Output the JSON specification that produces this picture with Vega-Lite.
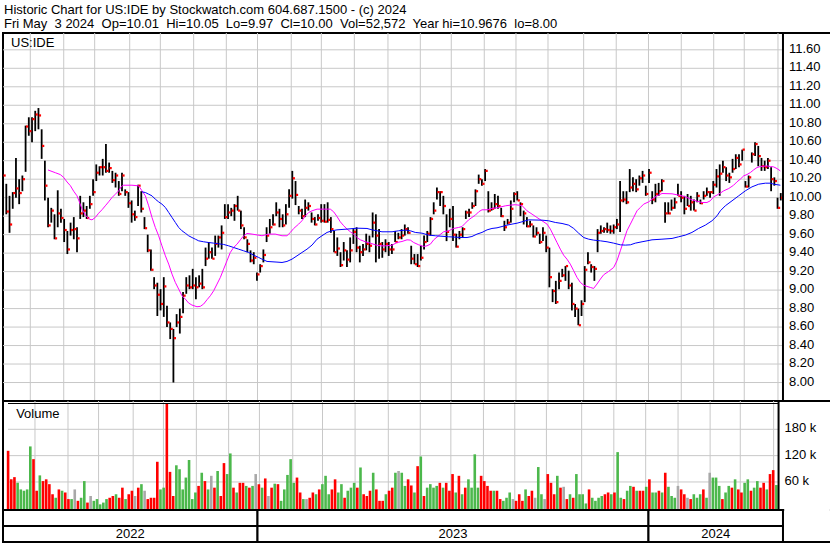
{
"$schema": "https://vega.github.io/schema/vega-lite/v6.json",
"padding": {"left": 1, "top": 4, "right": 0, "bottom": 1},
"background": "white",
"spacing": 0,
"bounds": "flush",
"resolve": {"scale": {"x": "independent", "y": "independent", "color": "independent"}},
"title": {"text": "Historic Chart for US:IDE by Stockwatch.com 604.687.1500 - (c) 2024", "subtitle": "Fri May\u00a0 3 2024\u00a0 Op=10.01\u00a0 Hi=10.05\u00a0 Lo=9.97\u00a0 Cl=10.00\u00a0 Vol=52,572\u00a0 Year hi=10.9676\u00a0 lo=8.00", "anchor": "start", "frame": "group", "dx": 1, "offset": 0, "fontSize": 13, "fontWeight": "normal", "font": "Liberation Sans", "color": "black", "subtitleFont": "Liberation Sans", "subtitleFontSize": 13, "subtitleColor": "black", "subtitlePadding": 1},
"config": {"font": "Liberation Sans", "view": {"stroke": "#000000", "strokeWidth": 2}},
"datasets": {
"bars": [
{"t":0,"h":10.26,"l":9.95,"c":10.24,"v":131,"d":"d"},
{"t":3,"h":10.15,"l":9.82,"c":9.85,"v":66,"d":"d"},
{"t":6,"h":10.02,"l":9.62,"c":9.71,"v":71,"d":"d"},
{"t":9,"h":10.06,"l":9.88,"c":10.05,"v":58,"d":"u"},
{"t":12,"h":10.43,"l":10.0,"c":10.1,"v":43,"d":"u"},
{"t":15,"h":10.2,"l":9.93,"c":10.05,"v":40,"d":"u"},
{"t":18,"h":10.24,"l":10.07,"c":10.2,"v":43,"d":"u"},
{"t":21,"h":10.78,"l":10.28,"c":10.77,"v":141,"d":"u"},
{"t":24,"h":10.87,"l":10.67,"c":10.72,"v":112,"d":"d"},
{"t":27,"h":10.87,"l":10.6,"c":10.85,"v":40,"d":"d"},
{"t":30,"h":10.94,"l":10.72,"c":10.9,"v":75,"d":"u"},
{"t":33,"h":10.97,"l":10.74,"c":10.89,"v":62,"d":"d"},
{"t":36,"h":10.74,"l":10.42,"c":10.56,"v":66,"d":"d"},
{"t":39,"h":10.4,"l":9.97,"c":10.13,"v":55,"d":"d"},
{"t":42,"h":10.0,"l":9.68,"c":9.7,"v":32,"d":"d"},
{"t":45,"h":9.89,"l":9.73,"c":9.86,"v":24,"d":"u"},
{"t":48,"h":9.82,"l":9.55,"c":9.56,"v":43,"d":"d"},
{"t":51,"h":10.08,"l":9.68,"c":9.83,"v":40,"d":"u"},
{"t":54,"h":9.88,"l":9.73,"c":9.78,"v":36,"d":"d"},
{"t":57,"h":9.77,"l":9.52,"c":9.65,"v":21,"d":"d"},
{"t":60,"h":9.64,"l":9.39,"c":9.44,"v":21,"d":"u"},
{"t":63,"h":9.73,"l":9.59,"c":9.65,"v":43,"d":"n"},
{"t":66,"h":9.79,"l":9.55,"c":9.66,"v":17,"d":"d"},
{"t":69,"h":9.68,"l":9.41,"c":9.56,"v":24,"d":"u"},
{"t":72,"h":10.02,"l":9.77,"c":9.83,"v":62,"d":"u"},
{"t":75,"h":9.95,"l":9.79,"c":9.86,"v":13,"d":"d"},
{"t":78,"h":9.91,"l":9.77,"c":9.78,"v":28,"d":"n"},
{"t":81,"h":10.02,"l":9.88,"c":9.93,"v":17,"d":"u"},
{"t":84,"h":10.2,"l":10.02,"c":10.06,"v":21,"d":"u"},
{"t":87,"h":10.36,"l":10.18,"c":10.27,"v":9,"d":"u"},
{"t":90,"h":10.34,"l":10.24,"c":10.33,"v":13,"d":"u"},
{"t":93,"h":10.42,"l":10.24,"c":10.33,"v":21,"d":"u"},
{"t":96,"h":10.58,"l":10.27,"c":10.29,"v":24,"d":"d"},
{"t":99,"h":10.38,"l":10.27,"c":10.32,"v":28,"d":"d"},
{"t":102,"h":10.29,"l":10.16,"c":10.19,"v":32,"d":"u"},
{"t":105,"h":10.27,"l":10.11,"c":10.24,"v":24,"d":"d"},
{"t":108,"h":10.18,"l":10.02,"c":10.04,"v":47,"d":"d"},
{"t":111,"h":10.27,"l":10.07,"c":10.24,"v":21,"d":"u"},
{"t":114,"h":10.09,"l":10.02,"c":10.06,"v":32,"d":"d"},
{"t":117,"h":10.06,"l":9.89,"c":9.94,"v":40,"d":"d"},
{"t":120,"h":9.97,"l":9.73,"c":9.82,"v":28,"d":"n"},
{"t":123,"h":9.86,"l":9.75,"c":9.79,"v":47,"d":"d"},
{"t":126,"h":10.14,"l":9.91,"c":10.13,"v":55,"d":"u"},
{"t":129,"h":10.07,"l":9.84,"c":9.88,"v":40,"d":"n"},
{"t":132,"h":9.79,"l":9.66,"c":9.67,"v":21,"d":"d"},
{"t":135,"h":9.6,"l":9.41,"c":9.43,"v":24,"d":"d"},
{"t":138,"h":9.44,"l":9.21,"c":9.22,"v":24,"d":"d"},
{"t":141,"h":9.14,"l":9.01,"c":9.05,"v":106,"d":"d"},
{"t":144,"h":9.08,"l":8.72,"c":8.95,"v":43,"d":"u"},
{"t":147,"h":9.01,"l":8.78,"c":8.85,"v":47,"d":"u"},
{"t":150,"h":9.14,"l":8.71,"c":9.04,"v":240,"d":"d"},
{"t":153,"h":8.83,"l":8.6,"c":8.65,"v":83,"d":"d"},
{"t":156,"h":8.65,"l":8.47,"c":8.58,"v":28,"d":"d"},
{"t":159,"h":8.58,"l":8.0,"c":8.48,"v":98,"d":"u"},
{"t":162,"h":8.74,"l":8.6,"c":8.65,"v":89,"d":"u"},
{"t":165,"h":8.8,"l":8.53,"c":8.71,"v":43,"d":"u"},
{"t":168,"h":8.98,"l":8.75,"c":8.94,"v":70,"d":"u"},
{"t":171,"h":9.14,"l":8.96,"c":9.05,"v":110,"d":"u"},
{"t":174,"h":9.16,"l":9.01,"c":9.03,"v":21,"d":"u"},
{"t":177,"h":9.23,"l":9.01,"c":9.05,"v":36,"d":"u"},
{"t":180,"h":9.14,"l":8.9,"c":9.03,"v":51,"d":"d"},
{"t":183,"h":9.16,"l":9.03,"c":9.07,"v":81,"d":"u"},
{"t":186,"h":9.23,"l":9.01,"c":9.03,"v":62,"d":"d"},
{"t":189,"h":9.46,"l":9.26,"c":9.34,"v":43,"d":"u"},
{"t":192,"h":9.52,"l":9.34,"c":9.41,"v":74,"d":"n"},
{"t":195,"h":9.46,"l":9.34,"c":9.34,"v":47,"d":"d"},
{"t":198,"h":9.59,"l":9.37,"c":9.5,"v":85,"d":"u"},
{"t":201,"h":9.59,"l":9.46,"c":9.57,"v":28,"d":"d"},
{"t":204,"h":9.7,"l":9.44,"c":9.62,"v":103,"d":"d"},
{"t":207,"h":9.93,"l":9.77,"c":9.79,"v":78,"d":"u"},
{"t":210,"h":9.93,"l":9.77,"c":9.84,"v":125,"d":"u"},
{"t":213,"h":9.89,"l":9.8,"c":9.86,"v":47,"d":"d"},
{"t":216,"h":9.93,"l":9.75,"c":9.91,"v":36,"d":"u"},
{"t":219,"h":10.02,"l":9.86,"c":9.86,"v":58,"d":"d"},
{"t":222,"h":9.86,"l":9.66,"c":9.7,"v":58,"d":"d"},
{"t":225,"h":9.68,"l":9.55,"c":9.57,"v":51,"d":"u"},
{"t":228,"h":9.55,"l":9.41,"c":9.5,"v":47,"d":"d"},
{"t":231,"h":9.43,"l":9.3,"c":9.32,"v":51,"d":"u"},
{"t":234,"h":9.41,"l":9.28,"c":9.35,"v":78,"d":"n"},
{"t":237,"h":9.19,"l":9.1,"c":9.17,"v":55,"d":"d"},
{"t":240,"h":9.28,"l":9.19,"c":9.26,"v":47,"d":"u"},
{"t":243,"h":9.44,"l":9.3,"c":9.38,"v":68,"d":"d"},
{"t":246,"h":9.68,"l":9.52,"c":9.59,"v":28,"d":"n"},
{"t":249,"h":9.77,"l":9.61,"c":9.68,"v":47,"d":"d"},
{"t":252,"h":9.82,"l":9.7,"c":9.71,"v":56,"d":"u"},
{"t":255,"h":9.95,"l":9.8,"c":9.84,"v":55,"d":"d"},
{"t":258,"h":9.88,"l":9.68,"c":9.77,"v":17,"d":"u"},
{"t":261,"h":9.82,"l":9.68,"c":9.7,"v":43,"d":"u"},
{"t":264,"h":9.93,"l":9.71,"c":9.82,"v":76,"d":"u"},
{"t":267,"h":10.09,"l":9.89,"c":10.02,"v":112,"d":"u"},
{"t":270,"h":10.29,"l":9.99,"c":10.21,"v":58,"d":"u"},
{"t":273,"h":10.18,"l":9.92,"c":10.03,"v":70,"d":"d"},
{"t":276,"h":9.91,"l":9.82,"c":9.86,"v":36,"d":"d"},
{"t":279,"h":9.88,"l":9.77,"c":9.8,"v":21,"d":"u"},
{"t":282,"h":9.98,"l":9.79,"c":9.89,"v":21,"d":"n"},
{"t":285,"h":9.95,"l":9.86,"c":9.91,"v":24,"d":"d"},
{"t":288,"h":9.84,"l":9.73,"c":9.77,"v":36,"d":"d"},
{"t":291,"h":9.79,"l":9.7,"c":9.71,"v":32,"d":"u"},
{"t":294,"h":9.82,"l":9.75,"c":9.78,"v":43,"d":"d"},
{"t":297,"h":9.93,"l":9.73,"c":9.75,"v":55,"d":"u"},
{"t":300,"h":9.93,"l":9.73,"c":9.74,"v":74,"d":"u"},
{"t":303,"h":9.95,"l":9.73,"c":9.76,"v":32,"d":"u"},
{"t":306,"h":9.79,"l":9.62,"c":9.66,"v":43,"d":"d"},
{"t":309,"h":9.64,"l":9.41,"c":9.41,"v":66,"d":"d"},
{"t":312,"h":9.57,"l":9.37,"c":9.45,"v":36,"d":"u"},
{"t":315,"h":9.41,"l":9.25,"c":9.27,"v":55,"d":"u"},
{"t":318,"h":9.52,"l":9.32,"c":9.43,"v":24,"d":"d"},
{"t":321,"h":9.43,"l":9.25,"c":9.33,"v":40,"d":"u"},
{"t":324,"h":9.57,"l":9.3,"c":9.43,"v":47,"d":"u"},
{"t":327,"h":9.66,"l":9.5,"c":9.63,"v":58,"d":"u"},
{"t":330,"h":9.68,"l":9.41,"c":9.46,"v":47,"d":"d"},
{"t":333,"h":9.48,"l":9.3,"c":9.41,"v":93,"d":"u"},
{"t":336,"h":9.5,"l":9.37,"c":9.44,"v":32,"d":"d"},
{"t":339,"h":9.61,"l":9.43,"c":9.5,"v":28,"d":"d"},
{"t":342,"h":9.59,"l":9.41,"c":9.48,"v":40,"d":"d"},
{"t":345,"h":9.84,"l":9.57,"c":9.73,"v":81,"d":"u"},
{"t":348,"h":9.82,"l":9.3,"c":9.59,"v":43,"d":"d"},
{"t":351,"h":9.66,"l":9.34,"c":9.5,"v":17,"d":"d"},
{"t":354,"h":9.52,"l":9.35,"c":9.44,"v":17,"d":"d"},
{"t":357,"h":9.55,"l":9.41,"c":9.5,"v":32,"d":"u"},
{"t":360,"h":9.52,"l":9.37,"c":9.44,"v":40,"d":"d"},
{"t":363,"h":9.5,"l":9.39,"c":9.44,"v":47,"d":"d"},
{"t":366,"h":9.64,"l":9.52,"c":9.52,"v":81,"d":"u"},
{"t":369,"h":9.62,"l":9.55,"c":9.57,"v":85,"d":"n"},
{"t":372,"h":9.66,"l":9.55,"c":9.59,"v":81,"d":"u"},
{"t":375,"h":9.71,"l":9.59,"c":9.66,"v":51,"d":"u"},
{"t":378,"h":9.68,"l":9.61,"c":9.62,"v":66,"d":"d"},
{"t":381,"h":9.48,"l":9.28,"c":9.34,"v":52,"d":"d"},
{"t":384,"h":9.39,"l":9.28,"c":9.28,"v":36,"d":"u"},
{"t":387,"h":9.39,"l":9.25,"c":9.26,"v":96,"d":"d"},
{"t":390,"h":9.48,"l":9.32,"c":9.35,"v":118,"d":"u"},
{"t":393,"h":9.59,"l":9.44,"c":9.52,"v":28,"d":"d"},
{"t":396,"h":9.64,"l":9.52,"c":9.61,"v":47,"d":"u"},
{"t":399,"h":9.79,"l":9.59,"c":9.77,"v":55,"d":"u"},
{"t":402,"h":9.95,"l":9.82,"c":9.86,"v":47,"d":"u"},
{"t":405,"h":10.11,"l":9.98,"c":10.06,"v":51,"d":"u"},
{"t":408,"h":10.07,"l":9.91,"c":10.06,"v":58,"d":"d"},
{"t":411,"h":10.02,"l":9.82,"c":9.91,"v":47,"d":"u"},
{"t":414,"h":9.82,"l":9.53,"c":9.63,"v":58,"d":"d"},
{"t":417,"h":9.88,"l":9.68,"c":9.77,"v":40,"d":"d"},
{"t":420,"h":9.91,"l":9.53,"c":9.6,"v":78,"d":"d"},
{"t":423,"h":9.61,"l":9.46,"c":9.47,"v":36,"d":"u"},
{"t":426,"h":9.64,"l":9.55,"c":9.6,"v":74,"d":"d"},
{"t":429,"h":9.68,"l":9.57,"c":9.66,"v":32,"d":"u"},
{"t":432,"h":9.86,"l":9.77,"c":9.84,"v":47,"d":"d"},
{"t":435,"h":9.88,"l":9.79,"c":9.84,"v":66,"d":"u"},
{"t":438,"h":9.95,"l":9.88,"c":9.91,"v":47,"d":"u"},
{"t":441,"h":10.09,"l":9.91,"c":10.07,"v":123,"d":"u"},
{"t":444,"h":10.25,"l":10.15,"c":10.2,"v":47,"d":"u"},
{"t":447,"h":10.2,"l":10.13,"c":10.15,"v":74,"d":"d"},
{"t":450,"h":10.31,"l":10.18,"c":10.29,"v":62,"d":"d"},
{"t":453,"h":10.07,"l":9.84,"c":9.86,"v":51,"d":"d"},
{"t":456,"h":9.95,"l":9.86,"c":9.88,"v":40,"d":"d"},
{"t":459,"h":10.04,"l":9.88,"c":9.93,"v":40,"d":"u"},
{"t":462,"h":10.02,"l":9.88,"c":9.91,"v":40,"d":"d"},
{"t":465,"h":9.89,"l":9.79,"c":9.8,"v":21,"d":"d"},
{"t":468,"h":9.75,"l":9.64,"c":9.68,"v":17,"d":"u"},
{"t":471,"h":9.77,"l":9.71,"c":9.73,"v":24,"d":"u"},
{"t":474,"h":9.97,"l":9.73,"c":9.88,"v":36,"d":"u"},
{"t":477,"h":10.06,"l":9.95,"c":10.04,"v":21,"d":"n"},
{"t":480,"h":10.07,"l":9.97,"c":9.97,"v":17,"d":"d"},
{"t":483,"h":9.95,"l":9.8,"c":9.93,"v":32,"d":"d"},
{"t":486,"h":9.86,"l":9.71,"c":9.83,"v":17,"d":"d"},
{"t":489,"h":9.79,"l":9.68,"c":9.69,"v":43,"d":"u"},
{"t":492,"h":9.75,"l":9.68,"c":9.71,"v":28,"d":"d"},
{"t":495,"h":9.7,"l":9.57,"c":9.58,"v":40,"d":"d"},
{"t":498,"h":9.68,"l":9.59,"c":9.62,"v":24,"d":"n"},
{"t":501,"h":9.61,"l":9.5,"c":9.52,"v":94,"d":"u"},
{"t":504,"h":9.68,"l":9.53,"c":9.62,"v":32,"d":"u"},
{"t":507,"h":9.59,"l":9.41,"c":9.46,"v":21,"d":"n"},
{"t":510,"h":9.46,"l":9.03,"c":9.14,"v":78,"d":"d"},
{"t":513,"h":9.01,"l":8.87,"c":8.99,"v":58,"d":"d"},
{"t":516,"h":9.1,"l":8.85,"c":8.87,"v":32,"d":"d"},
{"t":519,"h":9.19,"l":9.01,"c":9.1,"v":74,"d":"u"},
{"t":522,"h":9.23,"l":9.14,"c":9.16,"v":47,"d":"d"},
{"t":525,"h":9.26,"l":9.1,"c":9.26,"v":49,"d":"n"},
{"t":528,"h":9.21,"l":9.01,"c":9.05,"v":21,"d":"d"},
{"t":531,"h":9.08,"l":8.78,"c":8.85,"v":32,"d":"u"},
{"t":534,"h":8.85,"l":8.71,"c":8.8,"v":24,"d":"d"},
{"t":537,"h":8.8,"l":8.62,"c":8.62,"v":78,"d":"u"},
{"t":540,"h":8.89,"l":8.72,"c":8.85,"v":32,"d":"u"},
{"t":543,"h":9.26,"l":8.87,"c":9.22,"v":32,"d":"u"},
{"t":546,"h":9.41,"l":9.28,"c":9.3,"v":11,"d":"u"},
{"t":549,"h":9.28,"l":9.19,"c":9.25,"v":43,"d":"d"},
{"t":552,"h":9.26,"l":9.1,"c":9.23,"v":24,"d":"u"},
{"t":555,"h":9.66,"l":9.41,"c":9.62,"v":17,"d":"u"},
{"t":558,"h":9.7,"l":9.61,"c":9.64,"v":24,"d":"u"},
{"t":561,"h":9.68,"l":9.62,"c":9.66,"v":28,"d":"u"},
{"t":564,"h":9.73,"l":9.62,"c":9.65,"v":32,"d":"d"},
{"t":567,"h":9.7,"l":9.61,"c":9.64,"v":36,"d":"d"},
{"t":570,"h":9.71,"l":9.61,"c":9.68,"v":32,"d":"u"},
{"t":573,"h":9.77,"l":9.66,"c":9.71,"v":36,"d":"d"},
{"t":576,"h":10.18,"l":9.63,"c":9.97,"v":128,"d":"u"},
{"t":579,"h":10.07,"l":9.95,"c":9.98,"v":24,"d":"u"},
{"t":582,"h":10.07,"l":9.93,"c":9.95,"v":21,"d":"d"},
{"t":585,"h":10.31,"l":10.06,"c":10.11,"v":40,"d":"u"},
{"t":588,"h":10.22,"l":10.07,"c":10.15,"v":51,"d":"u"},
{"t":591,"h":10.2,"l":10.06,"c":10.09,"v":49,"d":"d"},
{"t":594,"h":10.24,"l":10.13,"c":10.21,"v":40,"d":"u"},
{"t":597,"h":10.29,"l":10.16,"c":10.24,"v":40,"d":"d"},
{"t":600,"h":10.13,"l":10.02,"c":10.04,"v":40,"d":"d"},
{"t":603,"h":10.31,"l":10.16,"c":10.27,"v":49,"d":"u"},
{"t":606,"h":10.07,"l":9.93,"c":9.98,"v":66,"d":"d"},
{"t":609,"h":10.15,"l":9.95,"c":10.04,"v":36,"d":"u"},
{"t":612,"h":10.16,"l":10.02,"c":10.07,"v":36,"d":"u"},
{"t":615,"h":10.2,"l":10.07,"c":10.18,"v":40,"d":"d"},
{"t":618,"h":9.95,"l":9.73,"c":9.83,"v":36,"d":"u"},
{"t":621,"h":9.95,"l":9.82,"c":9.83,"v":81,"d":"d"},
{"t":624,"h":9.98,"l":9.86,"c":9.89,"v":49,"d":"u"},
{"t":627,"h":10.0,"l":9.88,"c":9.95,"v":28,"d":"u"},
{"t":630,"h":10.15,"l":10.02,"c":10.02,"v":24,"d":"u"},
{"t":633,"h":10.07,"l":9.95,"c":10.0,"v":51,"d":"n"},
{"t":636,"h":10.02,"l":9.82,"c":9.88,"v":43,"d":"d"},
{"t":639,"h":10.04,"l":9.91,"c":9.91,"v":32,"d":"d"},
{"t":642,"h":10.02,"l":9.86,"c":9.95,"v":24,"d":"n"},
{"t":645,"h":9.98,"l":9.86,"c":9.86,"v":21,"d":"d"},
{"t":648,"h":10.06,"l":9.95,"c":10.02,"v":32,"d":"u"},
{"t":651,"h":9.98,"l":9.93,"c":9.94,"v":24,"d":"u"},
{"t":654,"h":10.07,"l":9.98,"c":10.02,"v":32,"d":"u"},
{"t":657,"h":10.11,"l":10.02,"c":10.06,"v":43,"d":"d"},
{"t":660,"h":10.07,"l":10.0,"c":10.06,"v":24,"d":"u"},
{"t":663,"h":10.18,"l":10.04,"c":10.14,"v":81,"d":"n"},
{"t":666,"h":10.31,"l":10.11,"c":10.23,"v":70,"d":"u"},
{"t":669,"h":10.36,"l":10.02,"c":10.26,"v":70,"d":"u"},
{"t":672,"h":10.4,"l":10.27,"c":10.33,"v":51,"d":"u"},
{"t":675,"h":10.33,"l":10.18,"c":10.24,"v":21,"d":"d"},
{"t":678,"h":10.27,"l":10.16,"c":10.22,"v":36,"d":"u"},
{"t":681,"h":10.42,"l":10.27,"c":10.31,"v":51,"d":"u"},
{"t":684,"h":10.47,"l":10.31,"c":10.43,"v":47,"d":"d"},
{"t":687,"h":10.47,"l":10.33,"c":10.36,"v":66,"d":"u"},
{"t":690,"h":10.52,"l":10.4,"c":10.52,"v":43,"d":"d"},
{"t":693,"h":10.18,"l":10.11,"c":10.12,"v":36,"d":"d"},
{"t":696,"h":10.24,"l":10.11,"c":10.22,"v":58,"d":"u"},
{"t":699,"h":10.49,"l":10.38,"c":10.47,"v":66,"d":"u"},
{"t":702,"h":10.6,"l":10.45,"c":10.58,"v":40,"d":"d"},
{"t":705,"h":10.56,"l":10.34,"c":10.45,"v":47,"d":"u"},
{"t":708,"h":10.43,"l":10.29,"c":10.34,"v":62,"d":"u"},
{"t":711,"h":10.4,"l":10.29,"c":10.33,"v":47,"d":"d"},
{"t":714,"h":10.43,"l":10.31,"c":10.4,"v":58,"d":"d"},
{"t":717,"h":10.33,"l":10.07,"c":10.2,"v":43,"d":"u"},
{"t":720,"h":10.22,"l":10.13,"c":10.18,"v":78,"d":"d"},
{"t":723,"h":10.0,"l":9.88,"c":9.89,"v":87,"d":"d"},
{"t":726,"h":10.05,"l":9.97,"c":10.0,"v":53,"d":"u"}
],
"ma1": [
{"t":41.9,"p":10.3},{"t":48.8,"p":10.27},{"t":53.4,"p":10.25},{"t":56.5,"p":10.22},{"t":59.7,"p":10.17},{"t":62.8,"p":10.13},{"t":65.9,"p":10.07},{"t":69.0,"p":10.02},{"t":71.2,"p":9.955},{"t":73.7,"p":9.876},{"t":76.8,"p":9.811},{"t":80.5,"p":9.768},{"t":83.0,"p":9.76},{"t":86.1,"p":9.786},{"t":89.2,"p":9.832},{"t":92.3,"p":9.869},{"t":95.4,"p":9.912},{"t":98.5,"p":9.955},{"t":101.7,"p":10.002},{"t":104.8,"p":10.038},{"t":107.9,"p":10.074},{"t":110.4,"p":10.121},{"t":112.6,"p":10.135},{"t":120.3,"p":10.135},{"t":126.6,"p":10.128},{"t":129.7,"p":10.074},{"t":132.8,"p":10.02},{"t":135.9,"p":9.912},{"t":139.0,"p":9.786},{"t":142.1,"p":9.678},{"t":145.2,"p":9.588},{"t":148.3,"p":9.479},{"t":151.5,"p":9.371},{"t":154.6,"p":9.281},{"t":157.7,"p":9.173},{"t":160.8,"p":9.083},{"t":163.9,"p":9.011},{"t":167.0,"p":8.939},{"t":170.1,"p":8.903},{"t":173.2,"p":8.86},{"t":176.3,"p":8.838},{"t":181.0,"p":8.82},{"t":184.1,"p":8.824},{"t":187.2,"p":8.849},{"t":190.4,"p":8.896},{"t":193.5,"p":8.939},{"t":196.6,"p":8.993},{"t":199.7,"p":9.065},{"t":202.8,"p":9.137},{"t":205.9,"p":9.227},{"t":209.0,"p":9.317},{"t":212.1,"p":9.407},{"t":215.2,"p":9.461},{"t":218.4,"p":9.497},{"t":221.5,"p":9.544},{"t":224.6,"p":9.588},{"t":227.7,"p":9.613},{"t":232.4,"p":9.606},{"t":241.7,"p":9.588},{"t":247.9,"p":9.606},{"t":254.1,"p":9.606},{"t":260.4,"p":9.588},{"t":265.0,"p":9.588},{"t":268.2,"p":9.624},{"t":271.3,"p":9.667},{"t":275.9,"p":9.714},{"t":279.0,"p":9.75},{"t":282.2,"p":9.804},{"t":285.3,"p":9.84},{"t":288.4,"p":9.858},{"t":293.1,"p":9.876},{"t":305.5,"p":9.876},{"t":308.6,"p":9.847},{"t":311.7,"p":9.797},{"t":314.8,"p":9.739},{"t":318.0,"p":9.696},{"t":321.1,"p":9.66},{"t":324.2,"p":9.631},{"t":327.3,"p":9.606},{"t":330.4,"p":9.569},{"t":333.5,"p":9.544},{"t":338.2,"p":9.523},{"t":342.8,"p":9.508},{"t":347.5,"p":9.49},{"t":352.2,"p":9.479},{"t":356.8,"p":9.479},{"t":363.1,"p":9.486},{"t":367.7,"p":9.515},{"t":372.4,"p":9.526},{"t":377.1,"p":9.544},{"t":380.2,"p":9.541},{"t":383.3,"p":9.515},{"t":388.0,"p":9.49},{"t":392.6,"p":9.472},{"t":395.7,"p":9.479},{"t":398.9,"p":9.497},{"t":402.0,"p":9.544},{"t":406.6,"p":9.588},{"t":411.3,"p":9.631},{"t":416.0,"p":9.642},{"t":420.6,"p":9.667},{"t":425.3,"p":9.678},{"t":428.4,"p":9.688},{"t":431.5,"p":9.724},{"t":434.6,"p":9.76},{"t":437.7,"p":9.786},{"t":440.9,"p":9.811},{"t":444.0,"p":9.847},{"t":447.1,"p":9.869},{"t":451.8,"p":9.869},{"t":456.4,"p":9.883},{"t":462.6,"p":9.894},{"t":468.9,"p":9.912},{"t":473.5,"p":9.919},{"t":478.2,"p":9.924},{"t":484.4,"p":9.915},{"t":489.1,"p":9.858},{"t":493.8,"p":9.822},{"t":498.4,"p":9.786},{"t":503.1,"p":9.75},{"t":507.8,"p":9.714},{"t":510.9,"p":9.66},{"t":514.0,"p":9.588},{"t":517.1,"p":9.515},{"t":520.2,"p":9.443},{"t":523.3,"p":9.378},{"t":526.4,"p":9.335},{"t":529.5,"p":9.281},{"t":532.7,"p":9.209},{"t":535.8,"p":9.137},{"t":538.9,"p":9.083},{"t":542.0,"p":9.054},{"t":545.1,"p":9.04},{"t":548.2,"p":9.029},{"t":551.3,"p":9.018},{"t":554.4,"p":9.065},{"t":557.6,"p":9.119},{"t":560.7,"p":9.166},{"t":565.3,"p":9.202},{"t":570.0,"p":9.245},{"t":573.1,"p":9.317},{"t":576.2,"p":9.425},{"t":579.3,"p":9.533},{"t":582.4,"p":9.642},{"t":585.6,"p":9.714},{"t":588.7,"p":9.786},{"t":591.8,"p":9.858},{"t":594.9,"p":9.894},{"t":598.0,"p":9.93},{"t":602.7,"p":9.955},{"t":605.8,"p":9.984},{"t":610.4,"p":10.02},{"t":615.1,"p":10.045},{"t":624.5,"p":10.042},{"t":633.8,"p":10.02},{"t":638.5,"p":10.002},{"t":643.1,"p":9.977},{"t":647.8,"p":9.962},{"t":652.5,"p":9.948},{"t":657.1,"p":9.948},{"t":660.2,"p":9.966},{"t":663.4,"p":10.009},{"t":668.0,"p":10.038},{"t":672.7,"p":10.074},{"t":677.4,"p":10.099},{"t":682.0,"p":10.135},{"t":685.1,"p":10.171},{"t":688.2,"p":10.2},{"t":691.4,"p":10.236},{"t":694.5,"p":10.251},{"t":697.6,"p":10.272},{"t":700.7,"p":10.301},{"t":703.8,"p":10.326},{"t":706.9,"p":10.337},{"t":713.1,"p":10.344},{"t":716.3,"p":10.337},{"t":719.4,"p":10.333},{"t":722.5,"p":10.315},{"t":725.6,"p":10.29}
],
"ma2": [
{"t":129.7,"p":10.063},{"t":132.8,"p":10.056},{"t":135.9,"p":10.038},{"t":139.0,"p":10.02},{"t":142.1,"p":9.984},{"t":145.2,"p":9.955},{"t":148.3,"p":9.93},{"t":151.5,"p":9.894},{"t":154.6,"p":9.84},{"t":157.7,"p":9.786},{"t":160.8,"p":9.732},{"t":163.9,"p":9.678},{"t":167.0,"p":9.642},{"t":170.1,"p":9.616},{"t":173.2,"p":9.588},{"t":176.3,"p":9.569},{"t":179.5,"p":9.551},{"t":182.6,"p":9.533},{"t":187.2,"p":9.523},{"t":191.9,"p":9.515},{"t":196.6,"p":9.508},{"t":201.2,"p":9.501},{"t":205.9,"p":9.494},{"t":210.6,"p":9.479},{"t":215.2,"p":9.461},{"t":219.9,"p":9.443},{"t":224.6,"p":9.425},{"t":229.3,"p":9.407},{"t":233.9,"p":9.378},{"t":238.6,"p":9.353},{"t":241.7,"p":9.335},{"t":246.4,"p":9.31},{"t":255.7,"p":9.303},{"t":260.4,"p":9.299},{"t":265.0,"p":9.31},{"t":269.7,"p":9.335},{"t":274.4,"p":9.371},{"t":279.0,"p":9.407},{"t":283.7,"p":9.443},{"t":288.4,"p":9.487},{"t":293.1,"p":9.551},{"t":297.7,"p":9.588},{"t":302.4,"p":9.624},{"t":307.1,"p":9.642},{"t":311.7,"p":9.652},{"t":321.1,"p":9.66},{"t":330.4,"p":9.67},{"t":339.7,"p":9.667},{"t":344.4,"p":9.652},{"t":349.1,"p":9.642},{"t":353.7,"p":9.631},{"t":363.1,"p":9.631},{"t":369.3,"p":9.642},{"t":375.5,"p":9.649},{"t":380.2,"p":9.642},{"t":384.8,"p":9.624},{"t":391.1,"p":9.616},{"t":397.3,"p":9.595},{"t":403.5,"p":9.588},{"t":416.0,"p":9.577},{"t":428.4,"p":9.569},{"t":433.1,"p":9.569},{"t":437.7,"p":9.58},{"t":442.4,"p":9.606},{"t":447.1,"p":9.624},{"t":451.8,"p":9.652},{"t":456.4,"p":9.667},{"t":461.1,"p":9.674},{"t":465.8,"p":9.688},{"t":470.4,"p":9.703},{"t":475.1,"p":9.714},{"t":479.8,"p":9.724},{"t":484.4,"p":9.739},{"t":490.6,"p":9.76},{"t":503.1,"p":9.757},{"t":509.3,"p":9.75},{"t":515.5,"p":9.732},{"t":521.8,"p":9.721},{"t":528.0,"p":9.703},{"t":532.7,"p":9.667},{"t":537.3,"p":9.616},{"t":542.0,"p":9.569},{"t":546.7,"p":9.551},{"t":551.3,"p":9.541},{"t":557.6,"p":9.533},{"t":563.8,"p":9.523},{"t":570.0,"p":9.508},{"t":576.2,"p":9.49},{"t":580.9,"p":9.487},{"t":585.6,"p":9.49},{"t":590.2,"p":9.508},{"t":596.5,"p":9.523},{"t":601.1,"p":9.533},{"t":605.8,"p":9.544},{"t":615.1,"p":9.551},{"t":624.5,"p":9.559},{"t":630.7,"p":9.577},{"t":636.9,"p":9.595},{"t":643.1,"p":9.624},{"t":649.3,"p":9.667},{"t":655.6,"p":9.703},{"t":661.8,"p":9.75},{"t":666.5,"p":9.804},{"t":669.6,"p":9.858},{"t":674.2,"p":9.912},{"t":680.5,"p":9.966},{"t":686.7,"p":10.02},{"t":692.9,"p":10.074},{"t":699.1,"p":10.117},{"t":705.4,"p":10.146},{"t":711.6,"p":10.157},{"t":716.3,"p":10.157},{"t":719.4,"p":10.146},{"t":725.6,"p":10.135}
],
"months": [{"t":25.4},{"t":56.6},{"t":85.5},{"t":118.2},{"t":146.8},{"t":177.9},{"t":208.4},{"t":237.5},{"t":269.0},{"t":297.1},{"t":327.9},{"t":359.3},{"t":389.5},{"t":418.4},{"t":449.2},{"t":478.8},{"t":508.7},{"t":542.0},{"t":572.4},{"t":602.5},{"t":633.1},{"t":663.4},{"t":691.9},{"t":723.4}],
"plev": [{"p":8.0,"lab":"8.00"},{"p":8.2,"lab":"8.20"},{"p":8.4,"lab":"8.40"},{"p":8.6,"lab":"8.60"},{"p":8.8,"lab":"8.80"},{"p":9.0,"lab":"9.00"},{"p":9.2,"lab":"9.20"},{"p":9.4,"lab":"9.40"},{"p":9.6,"lab":"9.60"},{"p":9.8,"lab":"9.80"},{"p":10.0,"lab":"10.00"},{"p":10.2,"lab":"10.20"},{"p":10.4,"lab":"10.40"},{"p":10.6,"lab":"10.60"},{"p":10.8,"lab":"10.80"},{"p":11.0,"lab":"11.00"},{"p":11.2,"lab":"11.20"},{"p":11.4,"lab":"11.40"},{"p":11.6,"lab":"11.60"}],
"vlev": [{"v":60,"lab":"60 k"},{"v":120,"lab":"120 k"},{"v":180,"lab":"180 k"}],
"years": [{"yr":"2022","s":-0.09,"e":237.5,"m":118.7},{"yr":"2023","s":237.5,"e":602.5,"m":420.0},{"yr":"2024","s":602.5,"e":728.07,"m":665.3}]
},
"vconcat": [
{
"width": 828, "height": 368,
"layer": [
{"data": {"name": "months"}, "mark": {"type": "rule", "color": "#c8c8c8", "strokeWidth": 1},
 "encoding": {"x": {"field": "t", "type": "quantitative", "scale": {"domain": [-0.09, 772.9], "nice": false, "zero": false}, "axis": null}}},
{"data": {"name": "plev"}, "mark": {"type": "rule", "color": "#c8c8c8", "strokeWidth": 1},
 "encoding": {"y": {"field": "p", "type": "quantitative", "scale": {"domain": [7.8, 11.782], "nice": false, "zero": false}, "axis": null}, "x": {"datum": -0.09, "axis": null}, "x2": {"datum": 728.07}}},
{"data": {"name": "plev"}, "mark": {"type": "text", "align": "left", "baseline": "middle", "fontSize": 13, "dy": -1, "color": "black"},
 "encoding": {"y": {"field": "p", "type": "quantitative", "axis": null}, "x": {"datum": 733.7, "axis": null}, "text": {"field": "lab"}}},
{"data": {"name": "bars"}, "mark": {"type": "rule", "color": "black", "strokeWidth": 1.8},
 "encoding": {"x": {"field": "t", "type": "quantitative", "axis": null}, "y": {"field": "l", "type": "quantitative", "axis": null}, "y2": {"field": "h"}}},
{"data": {"name": "bars"}, "mark": {"type": "square", "color": "#ff0000", "size": 5, "opacity": 1, "xOffset": 1.5},
 "encoding": {"x": {"field": "t", "type": "quantitative", "axis": null}, "y": {"field": "c", "type": "quantitative", "axis": null}}},
{"data": {"name": "ma1"}, "mark": {"type": "line", "color": "#ff00ff", "strokeWidth": 1},
 "encoding": {"x": {"field": "t", "type": "quantitative", "axis": null}, "y": {"field": "p", "type": "quantitative", "axis": null}}},
{"data": {"name": "ma2"}, "mark": {"type": "line", "color": "#0000ff", "strokeWidth": 1},
 "encoding": {"x": {"field": "t", "type": "quantitative", "axis": null}, "y": {"field": "p", "type": "quantitative", "axis": null}}},
{"data": {"values": [{}]}, "mark": {"type": "rule", "color": "black", "strokeWidth": 2},
 "encoding": {"x": {"datum": 728.07, "axis": null}}},
{"data": {"values": [{"txt": "US:IDE"}]}, "mark": {"type": "text", "align": "left", "baseline": "alphabetic", "fontSize": 13, "color": "black"},
 "encoding": {"x": {"datum": 7.4, "axis": null}, "y": {"datum": 11.631, "axis": null}, "text": {"field": "txt"}}}
]
},
{
"width": 828, "height": 109,
"layer": [
{"data": {"name": "months"}, "mark": {"type": "rule", "color": "#c8c8c8", "strokeWidth": 1},
 "encoding": {"x": {"field": "t", "type": "quantitative", "scale": {"domain": [-0.09, 772.9], "nice": false, "zero": false}, "axis": null}}},
{"data": {"name": "vlev"}, "mark": {"type": "rule", "color": "#c8c8c8", "strokeWidth": 1},
 "encoding": {"y": {"field": "v", "type": "quantitative", "scale": {"domain": [-3.9, 244.5], "nice": false, "zero": false}, "axis": null}, "x": {"datum": -0.09, "axis": null}, "x2": {"datum": 728.07}}},
{"data": {"name": "vlev"}, "mark": {"type": "text", "align": "left", "baseline": "middle", "fontSize": 13, "dy": -1, "color": "black"},
 "encoding": {"y": {"field": "v", "type": "quantitative", "axis": null}, "x": {"datum": 733.7, "axis": null}, "text": {"field": "lab"}}},
{"data": {"name": "bars"}, "mark": {"type": "bar", "size": 2.6},
 "encoding": {"x": {"field": "t", "type": "quantitative", "axis": null}, "y": {"field": "v", "type": "quantitative", "axis": null}, "y2": {"datum": -3.9},
  "color": {"field": "d", "type": "nominal", "scale": {"domain": ["u", "d", "n"], "range": ["#4cb84c", "#ff0000", "#a8a8a8"]}, "legend": null}}},
{"data": {"values": [{}]}, "mark": {"type": "rule", "color": "black", "strokeWidth": 1},
 "encoding": {"y": {"datum": 238.8, "axis": null}, "x": {"datum": -0.09, "axis": null}, "x2": {"datum": 728.07}}},
{"data": {"values": [{}]}, "mark": {"type": "rule", "color": "black", "strokeWidth": 2},
 "encoding": {"x": {"datum": 728.07, "axis": null}}},
{"data": {"values": [{"txt": "Volume"}]}, "mark": {"type": "text", "align": "left", "baseline": "alphabetic", "fontSize": 13, "color": "black"},
 "encoding": {"x": {"datum": 7.6, "axis": null}, "y": {"datum": 205, "axis": null}, "text": {"field": "txt"}}}
]
},
{
"width": 828, "height": 32,
"layer": [
{"data": {"name": "years"}, "mark": {"type": "rect", "fill": "white", "stroke": "black", "strokeWidth": 2},
 "encoding": {"x": {"field": "s", "type": "quantitative", "scale": {"domain": [-0.09, 772.9], "nice": false, "zero": false}, "axis": null}, "x2": {"field": "e"},
  "y": {"datum": 0.5, "scale": {"domain": [0, 1], "nice": false, "zero": false}, "axis": null}, "y2": {"datum": 1}}},
{"data": {"name": "years"}, "mark": {"type": "rect", "fill": "white", "stroke": "black", "strokeWidth": 2},
 "encoding": {"x": {"field": "s", "type": "quantitative", "axis": null}, "x2": {"field": "e"}, "y": {"datum": 0, "axis": null}, "y2": {"datum": 0.5}}},
{"data": {"name": "years"}, "mark": {"type": "text", "align": "center", "baseline": "middle", "fontSize": 13, "color": "black"},
 "encoding": {"x": {"field": "m", "type": "quantitative", "axis": null}, "y": {"datum": 0.25, "axis": null}, "text": {"field": "yr"}}},
{"data": {"values": [{}]}, "mark": {"type": "rule", "color": "white", "strokeWidth": 3},
 "encoding": {"x": {"datum": 729.2, "axis": null}, "x2": {"datum": 771.9}, "y": {"datum": 1, "axis": null}}}
]
}
]
}
